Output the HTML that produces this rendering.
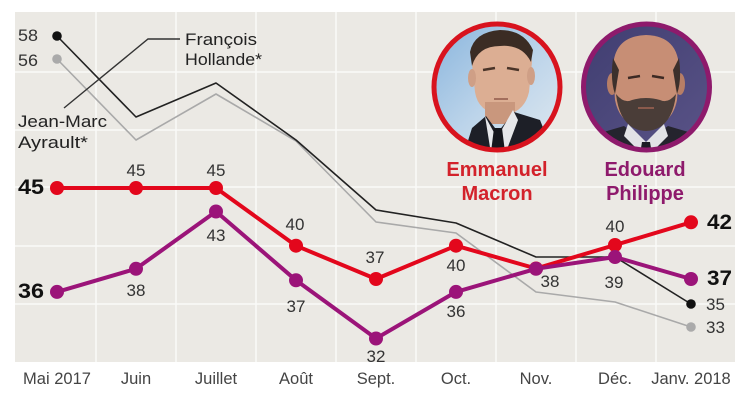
<!DOCTYPE html>
<html><head><meta charset="utf-8"><style>
html,body{margin:0;padding:0;background:#fff;}
svg{display:block;}
text{font-family:"Liberation Sans",Arial,sans-serif;}
</style></head><body>
<svg width="754" height="400" viewBox="0 0 754 400" xmlns="http://www.w3.org/2000/svg">
<defs>
<clipPath id="cm"><circle cx="497" cy="87" r="62"/></clipPath>
<clipPath id="cp"><circle cx="646.5" cy="87" r="62"/></clipPath>
<linearGradient id="gm" x1="0" y1="0" x2="1" y2="1">
<stop offset="0" stop-color="#86b3dc"/><stop offset="0.5" stop-color="#bcd4ea"/><stop offset="1" stop-color="#e6ecf0"/>
</linearGradient>
<linearGradient id="gp" x1="0" y1="0" x2="1" y2="1">
<stop offset="0" stop-color="#3f3d70"/><stop offset="1" stop-color="#5c5589"/>
</linearGradient>
</defs>
<rect x="0" y="0" width="754" height="400" fill="#fff"/>
<rect x="15" y="12" width="720" height="350" fill="#ebe9e4"/>
<g stroke="#fafaf8" stroke-width="1.5">
<line x1="15" y1="72" x2="735" y2="72"/>
<line x1="15" y1="130" x2="735" y2="130"/>
<line x1="15" y1="187" x2="735" y2="187"/>
<line x1="15" y1="246" x2="735" y2="246"/>
<line x1="15" y1="304" x2="735" y2="304"/>
<line x1="96" y1="12" x2="96" y2="362"/>
<line x1="176" y1="12" x2="176" y2="362"/>
<line x1="256" y1="12" x2="256" y2="362"/>
<line x1="336" y1="12" x2="336" y2="362"/>
<line x1="416" y1="12" x2="416" y2="362"/>
<line x1="496" y1="12" x2="496" y2="362"/>
<line x1="576" y1="12" x2="576" y2="362"/>
<line x1="656" y1="12" x2="656" y2="362"/>
</g>

<!-- Photos -->
<g clip-path="url(#cm)">
<rect x="430" y="20" width="140" height="140" fill="url(#gm)"/>
<path d="M472 64 Q472 40 500 36 Q530 38 532 62 L529 92 Q524 114 501 115 Q478 112 475 92 Z" fill="#dcae93"/>
<ellipse cx="472" cy="78" rx="4" ry="9" fill="#cf9f86"/>
<ellipse cx="531" cy="76" rx="4" ry="9" fill="#cf9f86"/>
<path d="M472 66 Q478 46 500 46 Q522 44 531 62 L533 50 Q524 30 500 30 Q474 32 470 52 Z" fill="#3b2c24"/>
<path d="M483 70 L495 68 M507 68 L519 70" stroke="#4a3428" stroke-width="2.5"/>
<path d="M494 99 L508 99" stroke="#a36e5c" stroke-width="2"/>
<rect x="485" y="102" width="30" height="22" fill="#c9977d"/>
<path d="M462 160 L472 128 L486 116 L498 132 L514 112 L540 120 L556 160 Z" fill="#1d1f27"/>
<path d="M485 116 L497 138 L513 110 L518 120 L503 160 L492 160 Z" fill="#e6e7ea"/>
<path d="M494 128 L502 128 L506 160 L490 160 Z" fill="#16171d"/>
</g>
<circle cx="497" cy="87" r="63" fill="none" stroke="#d8131e" stroke-width="5"/>

<g clip-path="url(#cp)">
<rect x="580" y="20" width="140" height="140" fill="url(#gp)"/>
<path d="M613 72 Q612 36 646 35 Q680 36 679 72 L677 100 Q672 126 646 128 Q620 126 615 100 Z" fill="#c78e75"/>
<ellipse cx="612" cy="84" rx="5" ry="11" fill="#b77e66"/>
<ellipse cx="680" cy="84" rx="5" ry="11" fill="#b77e66"/>
<path d="M613 58 Q610 80 615 94 L619 70 Z M679 58 Q682 80 677 94 L673 70 Z" fill="#3c302c"/>
<path d="M628 78 L640 76 M652 76 L664 78" stroke="#3c2a24" stroke-width="2.5"/>
<path d="M616 94 Q620 130 646 131 Q672 130 676 94 Q668 104 660 100 Q646 96 632 100 Q624 104 616 94 Z" fill="#4a3d38"/>
<path d="M638 108 L654 108" stroke="#8a5a4c" stroke-width="2"/>
<path d="M570 160 L590 136 L624 126 L646 142 L668 126 L702 136 L722 160 Z" fill="#25242e"/>
<path d="M628 124 L646 142 L664 124 L668 136 L650 154 L642 154 L624 136 Z" fill="#e2e2e6"/>
<path d="M642 142 L650 142 L653 160 L639 160 Z" fill="#1c1c24"/>
</g>
<circle cx="646.5" cy="87" r="63" fill="none" stroke="#8e1a6c" stroke-width="5"/>

<text x="497" y="176" text-anchor="middle" font-size="20" font-weight="bold" fill="#d3222b">Emmanuel</text>
<text x="497" y="200" text-anchor="middle" font-size="20" font-weight="bold" fill="#d3222b">Macron</text>
<text x="645" y="176" text-anchor="middle" font-size="20" font-weight="bold" fill="#8e1a6c">Edouard</text>
<text x="645" y="200" text-anchor="middle" font-size="20" font-weight="bold" fill="#8e1a6c">Philippe</text>

<!-- Hollande / Ayrault -->
<polyline points="57,59 136,140 216,94 296,141 376,222 456,233 536,292 615,302 691,327" fill="none" stroke="#a9a9a9" stroke-width="1.6" stroke-linejoin="round"/>
<polyline points="57,36 136,117 216,83 296,140 376,210 456,223 536,257 615,257 691,304" fill="none" stroke="#222" stroke-width="1.6" stroke-linejoin="round"/>
<circle cx="57" cy="59" r="4.8" fill="#aaa"/>
<circle cx="57" cy="36" r="4.8" fill="#111"/>
<circle cx="691" cy="327" r="4.8" fill="#aaa"/>
<circle cx="691" cy="304" r="4.8" fill="#111"/>
<polyline points="180,39 148,39 64,108" fill="none" stroke="#333" stroke-width="1.4"/>

<text x="18" y="41" font-size="17" fill="#333" textLength="20" lengthAdjust="spacingAndGlyphs">58</text>
<text x="18" y="66" font-size="17" fill="#333" textLength="20" lengthAdjust="spacingAndGlyphs">56</text>
<text x="185" y="45" font-size="16.5" fill="#222" textLength="72" lengthAdjust="spacingAndGlyphs">François</text>
<text x="185" y="65" font-size="16.5" fill="#222" textLength="77" lengthAdjust="spacingAndGlyphs">Hollande*</text>
<text x="18" y="127" font-size="16.5" fill="#222" textLength="89" lengthAdjust="spacingAndGlyphs">Jean-Marc</text>
<text x="18" y="148" font-size="16.5" fill="#222" textLength="70" lengthAdjust="spacingAndGlyphs">Ayrault*</text>

<!-- Macron red -->
<polyline points="57,188 136,188 216,188 296,245.7 376,279 456,245.7 536,268.5 615,245 691,222.3" fill="none" stroke="#e3071c" stroke-width="4" stroke-linejoin="round"/>
<g fill="#e3071c">
<circle cx="57" cy="188" r="7"/><circle cx="136" cy="188" r="7"/><circle cx="216" cy="188" r="7"/>
<circle cx="296" cy="245.7" r="7"/><circle cx="376" cy="279" r="7"/><circle cx="456" cy="245.7" r="7"/>
<circle cx="536" cy="268.5" r="7"/><circle cx="615" cy="245" r="7"/><circle cx="691" cy="222.3" r="7"/>
</g>
<!-- Philippe purple -->
<polyline points="57,291.9 136,268.8 216,211.5 296,280.3 376,338.5 456,291.9 536,268.8 615,257 691,279" fill="none" stroke="#9b1479" stroke-width="4" stroke-linejoin="round"/>
<g fill="#9b1479">
<circle cx="57" cy="291.9" r="7"/><circle cx="136" cy="268.8" r="7"/><circle cx="216" cy="211.5" r="7"/>
<circle cx="296" cy="280.3" r="7"/><circle cx="376" cy="338.5" r="7"/><circle cx="456" cy="291.9" r="7"/>
<circle cx="536" cy="268.8" r="7"/><circle cx="615" cy="257" r="7"/><circle cx="691" cy="279" r="7"/>
</g>

<!-- value labels -->
<g font-size="17" fill="#333" text-anchor="middle">
<text x="136" y="176">45</text>
<text x="216" y="176">45</text>
<text x="295" y="230">40</text>
<text x="375" y="263">37</text>
<text x="456" y="271">40</text>
<text x="550" y="287">38</text>
<text x="615" y="232">40</text>
<text x="136" y="296">38</text>
<text x="216" y="241">43</text>
<text x="296" y="312">37</text>
<text x="376" y="362">32</text>
<text x="456" y="317">36</text>
<text x="614" y="288">39</text>
</g>
<g font-size="17" fill="#333">
<text x="706" y="310">35</text>
<text x="706" y="333">33</text>
</g>
<g font-size="21" font-weight="bold" fill="#111">
<text x="18" y="194" textLength="26" lengthAdjust="spacingAndGlyphs">45</text>
<text x="18" y="298" textLength="26" lengthAdjust="spacingAndGlyphs">36</text>
<text x="707" y="229" textLength="25" lengthAdjust="spacingAndGlyphs">42</text>
<text x="707" y="285" textLength="25" lengthAdjust="spacingAndGlyphs">37</text>
</g>

<!-- axis labels -->
<g font-size="16.5" fill="#444" text-anchor="middle">
<text x="57" y="384">Mai 2017</text>
<text x="136" y="384">Juin</text>
<text x="216" y="384">Juillet</text>
<text x="296" y="384">Août</text>
<text x="376" y="384">Sept.</text>
<text x="456" y="384">Oct.</text>
<text x="536" y="384">Nov.</text>
<text x="615" y="384">Déc.</text>
<text x="691" y="384">Janv. 2018</text>
</g>
</svg>
</body></html>
